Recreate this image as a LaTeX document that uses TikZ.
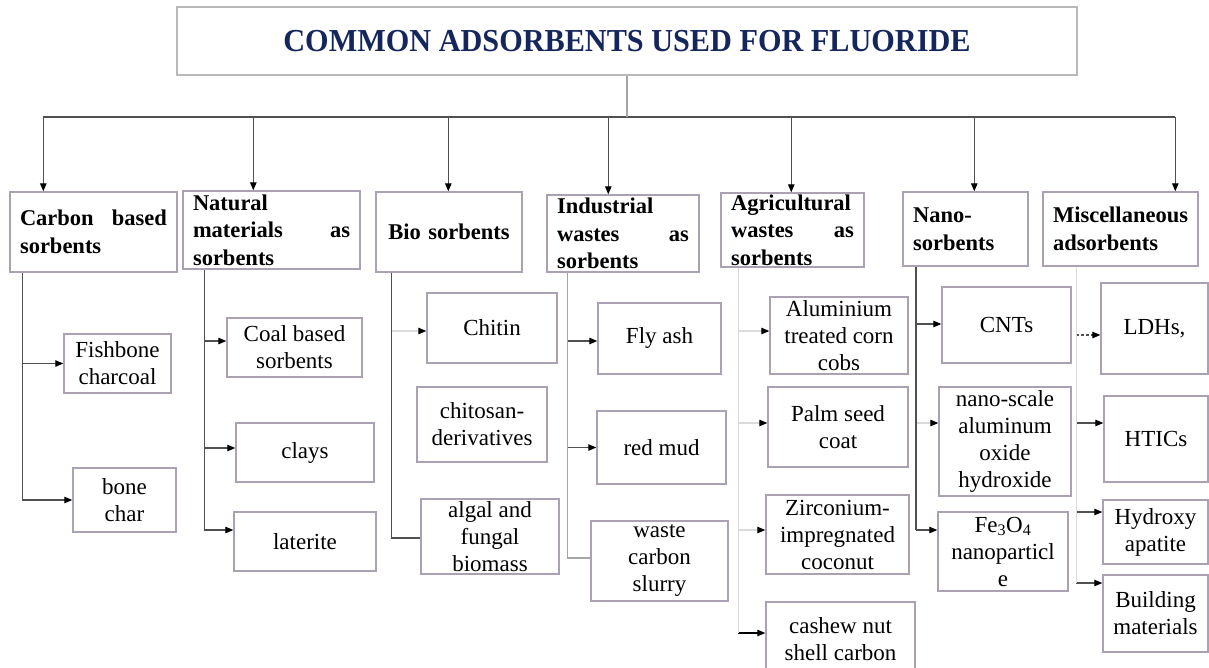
\documentclass[tikz,border=0pt]{standalone}
\usepackage{fontspec}
\setmainfont{Liberation Serif}
\usepackage{xcolor}
\usepackage{tikz}
\usetikzlibrary{arrows.meta}
\definecolor{titleblue}{RGB}{20,38,92}
\definecolor{boxline}{RGB}{170,162,178}
\definecolor{titleline}{RGB}{185,185,185}
\definecolor{linkdark}{RGB}{80,80,80}
\definecolor{linkmid}{RGB}{165,165,165}
\definecolor{linkpale}{RGB}{218,218,218}

\begin{document}
\begin{tikzpicture}[x=1pt,y=-1pt,
		box/.style={draw=boxline,line width=1.4pt,inner sep=0pt},
		head/.style={box,font=\bfseries\fontsize{22.5}{27.5}\selectfont,inner xsep=10pt,align=left},
		item/.style={box,font=\fontsize{23}{27}\selectfont,align=center},
		arr/.style={-{Triangle[length=8pt,width=6.5pt,color=black]},line width=1.1pt},
		bare/.style={line width=1.1pt},
		ldash/.style={draw=linkdark,dash pattern=on 3pt off 2pt}]
			\useasboundingbox (0,0) rectangle (1209,668);
			\clip (0,0) rectangle (1209,668);
			\node[box,draw=titleline,font=\bfseries\fontsize{32}{36}\selectfont,text=titleblue,minimum width=900,minimum height=68] (title) at (627,41) {\scalebox{0.945}[1]{COMMON ADSORBENTS USED FOR FLUORIDE}};
			\node[head,text width=147,minimum height=80] (carbon) at (93.5,232) {Carbon\hfill based\\sorbents};
			\node[head,text width=157,minimum height=78] (natural) at (271.5,230) {Natural\\materials\hfill as\\sorbents};
			\node[head,text width=126,minimum height=80,align=center] (bio) at (449,232) {Bio sorbents};
			\node[head,text width=132,minimum height=77] (indus) at (623,233.5) {Industrial\\wastes\hfill as\\sorbents};
			\node[head,text width=123,minimum height=74] (agri) at (792.5,230) {Agricultural\\wastes\hfill as\\sorbents};
			\node[head,text width=105,minimum height=74] (nano) at (965.5,229) {Nano-\\sorbents};
			\node[head,text width=135,minimum height=74] (misc) at (1120.5,229) {Miscellaneous\\adsorbents};
			\node[item,minimum width=107,minimum height=59] (fish) at (117.5,363.5) {Fishbone\\charcoal};
			\node[item,minimum width=103,minimum height=64] (bone) at (124.5,500) {bone\\char};
			\node[item,minimum width=135,minimum height=59] (coal) at (294.5,347.5) {Coal based\\sorbents};
			\node[item,minimum width=138,minimum height=59] (clays) at (305,452.5) {clays};
			\node[item,minimum width=142,minimum height=59] (lat) at (305,541.5) {laterite};
			\node[item,minimum width=130,minimum height=70] (chitin) at (492,328) {Chitin};
			\node[item,minimum width=130,minimum height=75] (chitosan) at (482,424.5) {chitosan-\\derivatives};
			\node[item,minimum width=138,minimum height=75] (algal) at (490,536.5) {algal and\\fungal\\biomass};
			\node[item,minimum width=123,minimum height=71] (flyash) at (659.5,338.5) {Fly ash};
			\node[item,minimum width=129,minimum height=73] (redmud) at (661.5,447.5) {red mud};
			\node[item,minimum width=137,minimum height=80] (waste) at (659.5,561) {waste\\carbon\\slurry};
			\node[item,minimum width=138,minimum height=77] (alum) at (839,335.5) {Aluminium\\treated corn\\cobs};
			\node[item,minimum width=140,minimum height=80] (palm) at (838,427) {Palm seed\\coat};
			\node[item,minimum width=143,minimum height=79] (zirc) at (837.5,534.5) {Zirconium-\\impregnated\\coconut};
			\node[item,minimum width=149,minimum height=74] (cashew) at (840.5,639) {cashew nut\\shell carbon};
			\node[item,minimum width=129,minimum height=76] (cnts) at (1006.5,325) {CNTs};
			\node[item,minimum width=132,minimum height=109] (nanoscale) at (1005,441.5) {nano-scale\\aluminum\\oxide\\hydroxide};
			\node[item,minimum width=130,minimum height=79] (fe) at (1003,551.5) {Fe\textsubscript{3}O\textsubscript{4}\\nanoparticl\\e};
			\node[item,minimum width=107,minimum height=91] (ldhs) at (1154.5,328.5) {LDHs,};
			\node[item,minimum width=104,minimum height=86] (htics) at (1156,439) {HTICs};
			\node[item,minimum width=105,minimum height=64] (hydroxy) at (1155.5,532) {Hydroxy\\apatite};
			\node[item,minimum width=105,minimum height=77] (building) at (1155.5,613.5) {Building\\materials};
			\coordinate (bus) at (627,117);
			\foreach \n/\dx in {carbon/34,natural/71,bio/73,indus/62,agri/71,nano/72,misc/133}
			{
				\coordinate (\n-top) at ([xshift=\dx pt]\n.north west);
				\draw[arr,linkdark] (\n-top |- bus) -- (\n-top);
			}
			\draw[bare,linkdark] (carbon-top |- bus) -- (misc-top |- bus);
			\draw[bare,linkmid] (title.south) -- (title.south |- bus);
			\coordinate (cT) at ([xshift=13pt]carbon.south west);
			\coordinate (nT) at ([xshift=22pt]natural.south west);
			\coordinate (bT) at ([xshift=16pt]bio.south west);
			\coordinate (iT) at ([xshift=21pt]indus.south west);
			\coordinate (aT) at ([xshift=18pt]agri.south west);
			\coordinate (sT) at ([xshift=14pt]nano.south west);
			\coordinate (mT) at ([xshift=34pt]misc.south west);
			\foreach \t/\b/\dy/\c/\s in {cT/fish/0/linkdark/arr, cT/bone/0/linkdark/arr,
				nT/coal/6.5/linkdark/arr, nT/clays/4.5/linkdark/arr, nT/lat/11.5/linkdark/arr,
				bT/chitin/-3/linkpale/arr, bT/algal/-1.5/linkdark/bare,
				iT/flyash/-2.5/linkdark/arr, iT/redmud/0/linkdark/arr, iT/waste/3/linkmid/bare,
				aT/alum/4.5/linkpale/arr, aT/palm/4/linkpale/arr, aT/zirc/4.5/linkpale/arr, aT/cashew/6/black/arr,
				sT/cnts/1/linkdark/arr, sT/nanoscale/18.5/linkpale/arr, sT/fe/21.5/linkdark/arr,
				mT/ldhs/-6.5/ldash/arr, mT/htics/16/linkdark/arr, mT/hydroxy/20/linkdark/arr, mT/building/30.5/linkdark/arr}
			{
				\coordinate (\b-in) at ([yshift=\dy pt]\b.west);
				\draw[\s,\c] (\t |- \b-in) -- (\b-in);
			}
			\draw[bare,linkdark] (cT) -- (cT |- bone-in);
			\draw[bare,linkdark] (nT) -- (nT |- lat-in);
			\draw[bare,linkdark] (bT) -- (bT |- algal-in);
			\draw[bare,linkmid] (iT) -- (iT |- waste-in);
			\draw[bare,linkpale] (aT) -- (aT |- cashew-in);
			\draw[line width=2pt,linkdark] (sT) -- (sT |- fe-in);
			\draw[bare,linkpale] (mT) -- (mT |- building-in);
		\end{tikzpicture}
\end{document}
